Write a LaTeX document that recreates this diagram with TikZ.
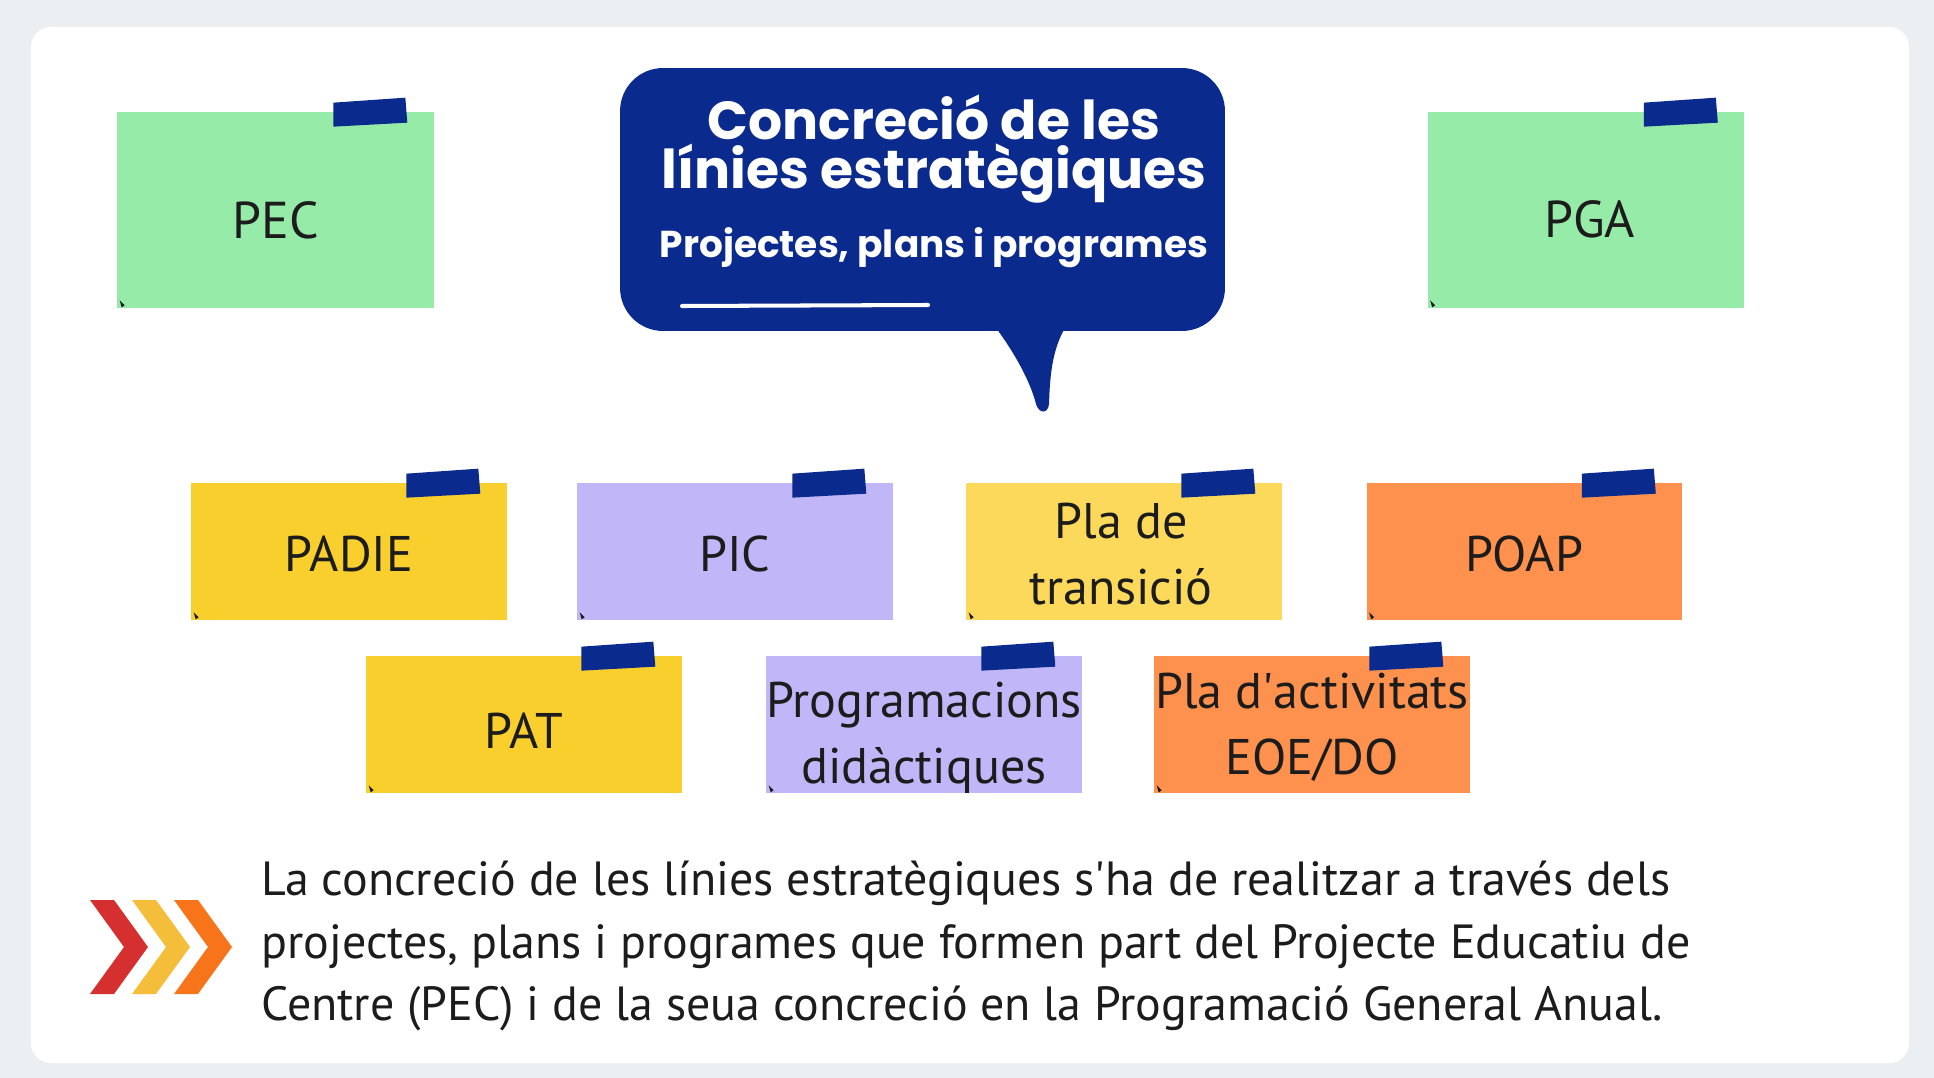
\documentclass[tikz,border=0pt]{standalone}
\usepackage{fontspec}
\setmainfont{PT Sans}
\newfontfamily\titlefont{Poppins}
\usetikzlibrary{calc}
\definecolor{bg}{HTML}{ECEFF2}
\definecolor{navy}{HTML}{0B2A8E}
\definecolor{mint}{HTML}{97EBA9}
\definecolor{gold}{HTML}{F8CF2D}
\definecolor{lightgold}{HTML}{FDD95B}
\definecolor{lav}{HTML}{C0B6F8}
\definecolor{orng}{HTML}{FE914D}
\definecolor{ink}{HTML}{1C1C1C}
\definecolor{chred}{HTML}{D62F2F}
\definecolor{chyel}{HTML}{F5BE3A}
\definecolor{chorg}{HTML}{F8741A}
\newcommand\tapeon[1]{%
  \fill[navy] ($(#1.north east)+(-101,-9)$) -- ($(#1.north east)+(-29,-14)$) -- ($(#1.north east)+(-27,11)$) -- ($(#1.north east)+(-101,15)$) -- cycle;
  \fill[ink] ($(#1.south west)+(3,-8)$) -- ($(#1.south west)+(8,-3)$) -- ($(#1.south west)+(5,-1)$) -- cycle;}
\newcommand\chev[2]{%
  \fill[#2] (#1,900) -- ++(24,0) -- (#1+58,947) -- (#1+24,994) -- (#1,994) -- (#1+34,947) -- cycle;}
\tikzset{
  bignote/.style={rectangle, inner sep=0pt, minimum width=6.34cm, minimum height=3.92cm},
  smallnote/.style={rectangle, inner sep=0pt, minimum width=6.32cm, minimum height=2.74cm},
  notelabel/.style={inner sep=0pt, text=ink, align=center, font=\fontsize{28.5pt}{37.5pt}\selectfont},
  biglabel/.style={inner sep=0pt, text=ink, font=\fontsize{29.5pt}{34pt}\selectfont},
  titletext/.style={text=white, inner sep=0pt, align=center, font=\titlefont\bfseries\fontsize{30.5pt}{27.8pt}\selectfont},
}
\begin{document}
\begin{tikzpicture}[x=0.02cm,y=-0.02cm]
\useasboundingbox (0,0) rectangle (1934,1078);
\fill[bg] (0,0) rectangle (1934,1078);
\fill[white, rounded corners=0.4cm] (31,27) rectangle (1909,1063);

% bubble
\node[rectangle, fill=navy, rounded corners=0.86cm, minimum width=12.1cm, minimum height=5.26cm, inner sep=0pt] (bubble) at (922.5,199.5) {};
\fill[navy] (990,320) .. controls (1012,348) and (1030,380) .. (1036,404) .. controls (1039,414) and (1048,414) .. (1049,404) .. controls (1050,375) and (1052,345) .. (1070,320) -- cycle;
\node[titletext] (title) at (934,149) {Concreció de les\\línies estratègiques};
\node[titletext, font=\titlefont\bfseries\fontsize{21.3pt}{24pt}\selectfont] (subtitle) at (934,248) {Projectes, plans i programes};
\draw[white, line width=2.3pt, line cap=round] (682,306) -- (928,305);

% top notes
\node[bignote, fill=mint] (pec) at (275.5,210) {};
\node[bignote, fill=mint] (pga) at (1586,210) {};
\node[biglabel] (pec-t) at (276,220) {PEC};
\node[biglabel] (pga-t) at (1590,219) {PGA};
\tapeon{pec}\tapeon{pga}

% row 2
\node[smallnote, fill=gold] (padie) at (349,551.5) {};
\node[smallnote, fill=lav] (pic) at (735,551.5) {};
\node[smallnote, fill=lightgold] (trans) at (1124,551.5) {};
\node[smallnote, fill=orng] (poap) at (1524.5,551.5) {};
\node[notelabel] (padie-t) at (349,554) {PADIE};
\node[notelabel] (pic-t) at (735,554) {PIC};
\node[notelabel] (trans-t) at (1121,554) {Pla de\\transició};
\node[notelabel] (poap-t) at (1524.5,554) {POAP};
% row 3
\node[smallnote, fill=gold] (pat) at (524,724.5) {};
\node[smallnote, fill=lav] (prog) at (924,724.5) {};
\node[smallnote, fill=orng] (eoe) at (1312,724.5) {};
\node[notelabel] (pat-t) at (524,731) {PAT};
\node[notelabel] (prog-t) at (924,738) {Programacions\\didàctiques};
\node[notelabel] (eoe-t) at (1312,727) {Pla d\textquotesingle activitats\\EOE/DO};
\tapeon{padie}\tapeon{pic}\tapeon{trans}\tapeon{poap}\tapeon{pat}\tapeon{prog}\tapeon{eoe}

% chevrons
\chev{90}{chred}
\chev{132}{chyel}
\chev{174}{chorg}

% paragraph
\node[anchor=west, align=left, inner sep=0pt, text=ink, font=\fontsize{27.3pt}{35.4pt}\selectfont] (para) at (261,946) {La concreció de les línies estratègiques s\textquotesingle ha de realitzar a través dels\\projectes, plans i programes que formen part del Projecte Educatiu de\\Centre (PEC) i de la seua concreció en la Programació General Anual.};
\end{tikzpicture}
\end{document}
